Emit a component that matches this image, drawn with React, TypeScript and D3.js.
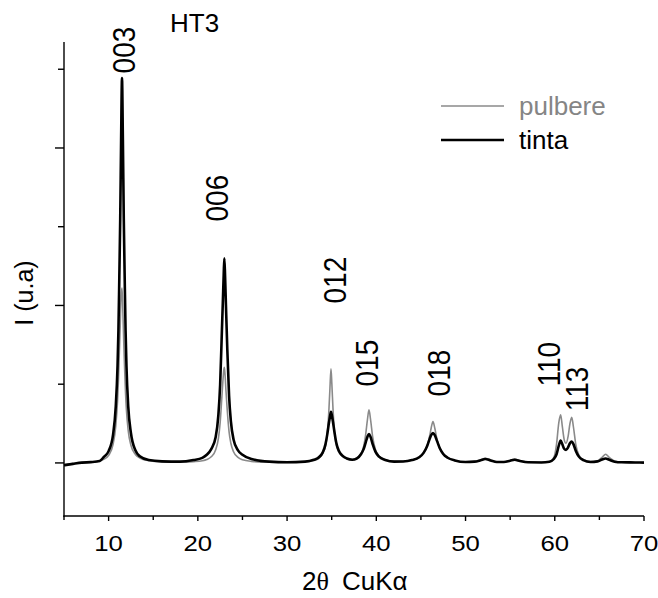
import React from "react";
import * as d3 from "d3";

// 2theta grid shared by both patterns (degrees)
const twoTheta = [
  5, 6, 7, 8, 9, 9.5, 10, 10.5, 10.8, 11.0, 11.1, 11.2, 11.3, 11.4, 11.5, 11.6, 11.7, 11.8, 11.9, 12.0,
  12.2, 12.5, 13.0, 13.5, 14.5, 16, 18, 19.5, 20.5, 21.0, 21.5, 22.0, 22.3, 22.5, 22.7, 22.8, 22.9, 22.97,
  23.05, 23.15, 23.3, 23.5, 23.7, 24.0, 24.5, 25.0, 26.0, 28, 30, 32, 33, 33.5, 34.0, 34.3, 34.5, 34.7,
  34.8, 34.92, 35.02, 35.15, 35.3, 35.5, 35.8, 36.2, 36.7, 37.3, 37.8, 38.3, 38.6, 38.8, 39.0, 39.18,
  39.35, 39.6, 39.9, 40.3, 41.0, 42.0, 43.0, 44.0, 44.8, 45.3, 45.7, 46.0, 46.15, 46.35, 46.55, 46.8,
  47.1, 47.5, 48.0, 48.8, 50.0, 51.0, 51.7, 52.2, 52.8, 53.5, 54.3, 55.0, 55.5, 56.1, 57.0, 58.5, 59.4,
  59.9, 60.2, 60.45, 60.66, 60.85, 61.05, 61.26, 61.5, 61.7, 61.9, 62.1, 62.35, 62.7, 63.2, 64.0, 64.8,
  65.3, 65.7, 66.1, 66.7, 67.5, 69, 70,
];

// intensity, arbitrary units
const pulbere = [
  -10, -4, 2, 4, 12, 24, 48, 118, 234, 393, 524, 700, 870, 1060, 1110, 960, 760, 589, 440, 333,
  204, 112, 54, 31, 14, 6, 4, 8, 14, 22, 39, 84, 155, 255, 426, 515, 585, 608,
  560, 460, 331, 197, 125, 71, 35, 20, 10, 4, 3, 6, 16, 26, 62, 105, 180, 350,
  470, 597, 500, 340, 205, 118, 70, 42, 28, 22, 32, 60, 110, 177, 272, 337,
  278, 162, 85, 44, 20, 10, 10, 18, 36, 66, 108, 178, 222, 262, 222, 150,
  95, 57, 33, 16, 6, 9, 20, 30, 19, 7, 7, 16, 24, 14, 4, 4, 8,
  35, 120, 255, 305, 230, 150, 125, 170, 250, 290, 225, 120, 50, 20, 8, 14,
  35, 55, 35, 12, 5, 3, 2,
];

const tinta = [
  -15, -6, 2, 5, 12, 40, 75, 180, 358, 616, 843, 1181, 1550, 2050, 2444, 2050, 1550, 1181, 843, 616,
  358, 190, 80, 42, 18, 10, 8, 18, 32, 52, 88, 165, 304, 498, 848, 1020, 1200, 1300,
  1190, 1000, 724, 426, 266, 149, 80, 52, 25, 8, 4, 8, 20, 33, 67, 118, 180, 258,
  292, 324, 302, 258, 200, 132, 77, 46, 28, 20, 28, 57, 91, 128, 165, 184,
  166, 118, 72, 40, 19, 8, 9, 18, 36, 64, 108, 156, 177, 190, 177, 140,
  95, 57, 33, 16, 6, 8, 17, 25, 16, 6, 6, 14, 20, 12, 4, 3, 8,
  25, 55, 110, 142, 118, 90, 83, 100, 125, 135, 118, 78, 40, 18, 6, 10,
  22, 28, 20, 8, 4, 3, 2,
];

const xTicks = [10, 20, 30, 40, 50, 60, 70];
const xMinorTicks = [5, 15, 25, 35, 45, 55, 65];
const yTicks = [0, 1000, 2000];
const yMinorTicks = [500, 1500, 2500];

// reflection labels, anchored in data units (2theta, intensity)
const peakNames = ["003", "006", "012", "015", "018", "110", "113"];
const peakLabelX = [11.67, 22.15, 35.37, 39.01, 46.97, 59.35, 62.49];
const peakLabelY = [2483, 1543, 1022, 495, 432, 495, 337];

const seriesNames = ["pulbere", "tinta"];
const seriesColors = ["#8a8a8a", "#000000"];
const seriesWidths = [1.6, 2.6];

const W = 658;
const H = 598;
const font = "'Liberation Sans', Arial, sans-serif";

export default function App() {
  const x = d3.scaleLinear().domain([5, 70]).range([64, 644]);
  const y = d3.scaleLinear().domain([-337, 2673]).range([516, 42]);

  const line = d3
    .line<number>()
    .x((_, i) => x(twoTheta[i]))
    .y((d) => y(d))
    .curve(d3.curveMonotoneX);

  const series = [pulbere, tinta];
  const x0 = x.range()[0];
  const yb = y.range()[0];

  return (
    <svg
      width={W}
      height={H}
      style={{ position: "absolute", left: 0, top: 0, background: "#fff" }}
    >
      <rect width={W} height={H} fill="#fff" />

      {/* curves */}
      {series.map((s, k) => (
        <path
          key={seriesNames[k]}
          d={line(s) || ""}
          fill="none"
          stroke={seriesColors[k]}
          strokeWidth={seriesWidths[k]}
          strokeLinejoin="round"
        />
      ))}

      {/* axes */}
      <g stroke="#000" strokeWidth={1.4} fill="none">
        <line x1={x0} x2={x0} y1={y.range()[1]} y2={yb + 0.7} />
        <line x1={x0 - 0.7} x2={x.range()[1]} y1={yb} y2={yb} />
        {yTicks.map((t) => (
          <line key={"ym" + t} x1={x0 - 9} x2={x0} y1={y(t)} y2={y(t)} />
        ))}
        {yMinorTicks.map((t) => (
          <line key={"yn" + t} x1={x0 - 6} x2={x0} y1={y(t)} y2={y(t)} />
        ))}
        {xTicks.map((t) => (
          <line key={"xm" + t} x1={x(t)} x2={x(t)} y1={yb} y2={yb + 5} />
        ))}
        {xMinorTicks.map((t) => (
          <line key={"xn" + t} x1={x(t)} x2={x(t)} y1={yb} y2={yb + 4} />
        ))}
      </g>

      <g fontFamily={font} fill="#000">
        {xTicks.map((t) => (
          <text
            key={"xl" + t}
            transform={`translate(${x(t)},551) scale(1.12,1)`}
            textAnchor="middle"
            fontSize={23}
          >
            {t}
          </text>
        ))}

        <text y={590} fontSize={26}>
          <tspan x={302}>2</tspan>
          <tspan fontFamily="'Liberation Serif', serif">θ</tspan>
          <tspan x={342}>CuKα</tspan>
        </text>
        <text
          transform="translate(33,293) rotate(-90)"
          textAnchor="middle"
          fontSize={25}
        >
          I (u.a)
        </text>

        <text x={170} y={32} fontSize={26}>
          HT3
        </text>

        {peakNames.map((p, i) => (
          <text
            key={p}
            transform={`translate(${x(peakLabelX[i]) + 11},${y(peakLabelY[i]) + 1.5}) scale(1.12,1) rotate(-90)`}
            fontSize={28}
          >
            {p}
          </text>
        ))}

        {/* legend */}
        {seriesNames.map((n, k) => (
          <g key={"lg" + n} transform={`translate(441,${106 + k * 34})`}>
            <line x1={0} x2={63} y1={0} y2={0} stroke={seriesColors[k]} strokeWidth={seriesWidths[k] - 0.2} />
            <text x={78} y={9} fontSize={26} fill={k === 0 ? "#858585" : "#000"}>
              {n}
            </text>
          </g>
        ))}
      </g>
    </svg>
  );
}
